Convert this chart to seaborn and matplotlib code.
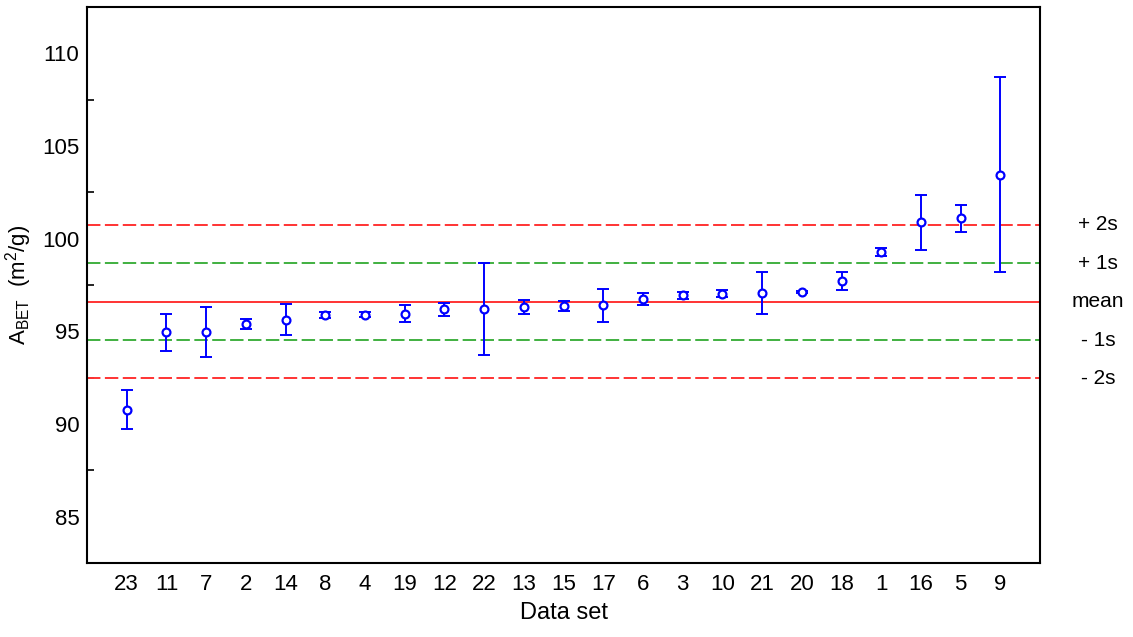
import numpy as np
import pandas as pd
import matplotlib
matplotlib.use("Agg")
import matplotlib.pyplot as plt
from matplotlib.ticker import MultipleLocator
import seaborn as sns

# ---- data ----
datasets = ["23", "11", "7", "2", "14", "8", "4", "19", "12", "22", "13", "15",
            "17", "6", "3", "10", "21", "20", "18", "1", "16", "5", "9"]
values = [90.77, 94.95, 94.96, 95.40, 95.63, 95.88, 95.90, 95.95, 96.19, 96.22,
          96.33, 96.37, 96.42, 96.74, 96.94, 97.04, 97.07, 97.12, 97.73, 99.26,
          100.88, 101.11, 103.44]
upper = [91.83, 95.95, 96.31, 95.68, 96.47, 96.06, 96.03, 96.40, 96.55, 98.70,
         96.71, 96.62, 97.28, 97.05, 97.10, 97.24, 98.22, 97.17, 98.22, 99.50,
         102.36, 101.83, 108.74]
lower = [89.73, 93.95, 93.61, 95.13, 94.80, 95.70, 95.75, 95.50, 95.83, 93.72,
         95.92, 96.11, 95.52, 96.42, 96.76, 96.86, 95.95, 97.07, 97.23, 99.05,
         99.37, 100.38, 98.18]
mean_value = 96.60
std_value = 2.07
ref_labels = ["+ 2s", "+ 1s", "mean", "- 1s", "- 2s"]
ref_mult = [2, 1, 0, -1, -2]
yticks = [85, 90, 95, 100, 105, 110]

df = pd.DataFrame({"Data set": datasets, "A": values, "lo": lower, "hi": upper})

sns.set_theme(style="white")
plt.rcParams["font.family"] = ["Liberation Sans", "DejaVu Sans"]
plt.rcParams["mathtext.fontset"] = "custom"
plt.rcParams["mathtext.rm"] = "Liberation Sans"
plt.rcParams["mathtext.it"] = "Liberation Sans"

fig = plt.figure(figsize=(11.33, 6.37), dpi=100)
ax = fig.add_axes([0.0768, 0.116, 0.8412, 0.873])

blue = "#0000FF"
red = "#FF3333"
green = "#40B040"

# reference lines
for m in ref_mult:
    yv = mean_value + m * std_value
    if m == 0:
        ax.axhline(yv, color=red, lw=1.4, zorder=1)
    elif abs(m) == 1:
        ax.axhline(yv, color=green, lw=1.4, dashes=(6.9, 2.3), zorder=1)
    else:
        ax.axhline(yv, color=red, lw=1.4, dashes=(6.9, 2.3), zorder=1)

# error bars
xpos = np.arange(len(df))
ax.errorbar(xpos, df["A"], yerr=[df["A"] - df["lo"], df["hi"] - df["A"]],
            fmt="none", ecolor=blue, elinewidth=1.4, capsize=4.6, capthick=1.4,
            zorder=2)

sns.scatterplot(data=df, x="Data set", y="A", ax=ax, marker="o", s=32,
                facecolor="white", edgecolor=blue, linewidth=1.6, zorder=3)

ax.set_xlim(-1, len(df))
ax.set_ylim(82.5, 112.5)
ax.set_xticks(xpos)
ax.set_xticklabels(datasets)
ax.set_yticks(yticks)
ax.yaxis.set_minor_locator(MultipleLocator(2.5))

ax.tick_params(axis="both", which="major", direction="in", length=8.6, width=1.2,
               color="black", labelsize=16, labelcolor="black")
ax.tick_params(axis="x", pad=8)
ax.tick_params(axis="y", pad=5.5)
ax.tick_params(axis="y", which="minor", direction="in", length=5, width=1.2,
               color="black", left=True)
ax.tick_params(top=False, right=False)

for sp in ax.spines.values():
    sp.set_color("black")
    sp.set_linewidth(1.5)

ax.set_xlabel("Data set", fontsize=17, color="black", labelpad=5)
ax.set_ylabel(r"A$_{\mathregular{BET}}$  (m$^2$/g)", fontsize=16, color="black",
              labelpad=6)

trans = ax.get_yaxis_transform()
for lab, m in zip(ref_labels, ref_mult):
    ax.text(1.061, mean_value + m * std_value, lab, transform=trans,
            ha="center", va="center", fontsize=15, color="black")

fig.savefig("out.png", dpi=100)
